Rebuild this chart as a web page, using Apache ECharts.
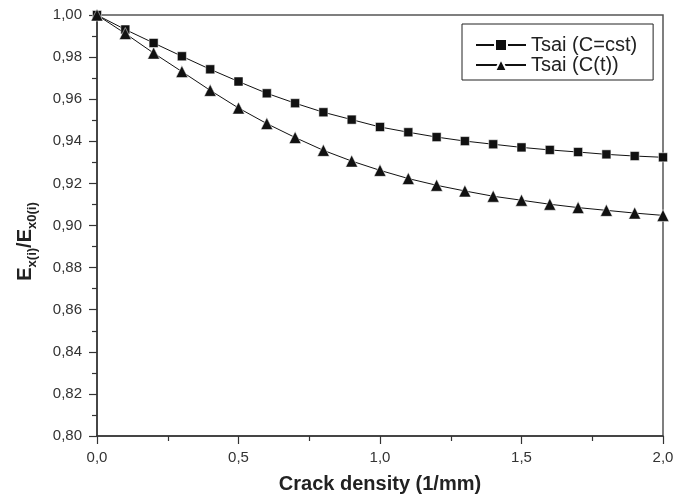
<!DOCTYPE html>
<html>
<head>
<meta charset="utf-8">
<script src="https://cdn.jsdelivr.net/npm/echarts@6/dist/echarts.min.js"></script>
<style>
  html, body { margin: 0; padding: 0; background: #fff; }
  #chart { width: 692px; height: 497px; }
</style>
</head>
<body>
<div id="chart"></div>
<script>
// crack density values (1/mm)
const crackDensity = [0.0, 0.1, 0.2, 0.3, 0.4, 0.5, 0.6, 0.7, 0.8, 0.9, 1.0,
  1.1, 1.2, 1.3, 1.4, 1.5, 1.6, 1.7, 1.8, 1.9, 2.0];

// Tsai (C=cst)
const tsaiConst = [1.0, 0.9931, 0.9867, 0.9804, 0.9742, 0.9684, 0.9628, 0.9581, 0.9538, 0.9503, 0.9468,
  0.9443, 0.9420, 0.9401, 0.9386, 0.9371, 0.9359, 0.9349, 0.9338, 0.9330, 0.9324];

// Tsai (C(t))
const tsaiTime = [1.0, 0.9912, 0.9819, 0.9731, 0.9642, 0.9558, 0.9484, 0.9418, 0.9357, 0.9306, 0.9262,
  0.9223, 0.9191, 0.9164, 0.9139, 0.9120, 0.9101, 0.9085, 0.9072, 0.9059, 0.9048];

const seriesNames = ['Tsai (C=cst)', 'Tsai (C(t))'];

const chart = echarts.init(document.getElementById('chart'));
const font = 'Liberation Sans';
const axisColor = '#333';

const pairs = (ys) => crackDensity.map((x, i) => [x, ys[i]]);

const option = {
  backgroundColor: '#fff',
  animation: false,
  textStyle: { fontFamily: font },
  grid: {
    left: 97, right: 29, top: 15, bottom: 61,
    outerBoundsMode: 'none',
    containLabel: false,
    show: true, borderColor: '#555', borderWidth: 1.5
  },
  legend: {
    left: 462, top: 24,
    orient: 'vertical',
    itemWidth: 50, itemHeight: 15, itemGap: 0,
    padding: [11, 16, 5, 13],
    borderColor: '#222', borderWidth: 1,
    textStyle: { fontFamily: font, fontSize: 20, lineHeight: 20, color: '#222' },
    data: seriesNames
  },
  xAxis: {
    type: 'value', min: 0, max: 2, interval: 0.5,
    name: 'Crack density (1/mm)',
    nameLocation: 'middle', nameGap: 38,
    nameTextStyle: { fontFamily: font, fontSize: 20, fontWeight: 'bold', color: '#222' },
    axisLine: { show: true, lineStyle: { color: axisColor, width: 1.5 } },
    axisTick: { show: true, inside: false, length: 8, lineStyle: { color: axisColor, width: 1.2 } },
    minorTick: { show: true, splitNumber: 2, length: 5, lineStyle: { color: axisColor, width: 1.2 } },
    splitLine: { show: false },
    axisLabel: {
      margin: 14, fontSize: 15, color: '#333',
      formatter: (v) => v.toFixed(1).replace('.', ',')
    }
  },
  yAxis: {
    type: 'value', min: 0.8, max: 1.0, interval: 0.02,
    name: '{b|E}{s|x(i)}{b|/E}{s|x0(i)}',
    nameLocation: 'middle', nameGap: 62, nameRotate: 90,
    nameTextStyle: {
      padding: [0, 32, 0, 0],
      rich: {
        b: { fontFamily: font, fontSize: 20, fontWeight: 'bold', color: '#222', verticalAlign: 'bottom', lineHeight: 24 },
        s: { fontFamily: font, fontSize: 13, fontWeight: 'bold', color: '#222', verticalAlign: 'bottom', lineHeight: 24, padding: [0, 0, -4, 0] }
      }
    },
    axisLine: { show: true, lineStyle: { color: axisColor, width: 1.5 } },
    axisTick: { show: true, inside: false, length: 8, lineStyle: { color: axisColor, width: 1.2 } },
    minorTick: { show: true, splitNumber: 2, length: 5, lineStyle: { color: axisColor, width: 1.2 } },
    splitLine: { show: false },
    axisLabel: {
      margin: 15, fontSize: 15, color: '#333',
      formatter: (v) => v.toFixed(2).replace('.', ',')
    }
  },
  series: [
    {
      name: seriesNames[0],
      type: 'line',
      data: pairs(tsaiConst),
      symbol: 'rect', symbolSize: 9,
      lineStyle: { color: '#111', width: 1 },
      itemStyle: { color: '#111', borderColor: '#fff', borderWidth: 0.5 }
    },
    {
      name: seriesNames[1],
      type: 'line',
      data: pairs(tsaiTime),
      symbol: 'triangle', symbolSize: 12,
      lineStyle: { color: '#111', width: 1 },
      itemStyle: { color: '#111', borderColor: '#fff', borderWidth: 0.5 }
    }
  ]
};

chart.setOption(option);
window.addEventListener('resize', () => chart.resize());
</script>
</body>
</html>
